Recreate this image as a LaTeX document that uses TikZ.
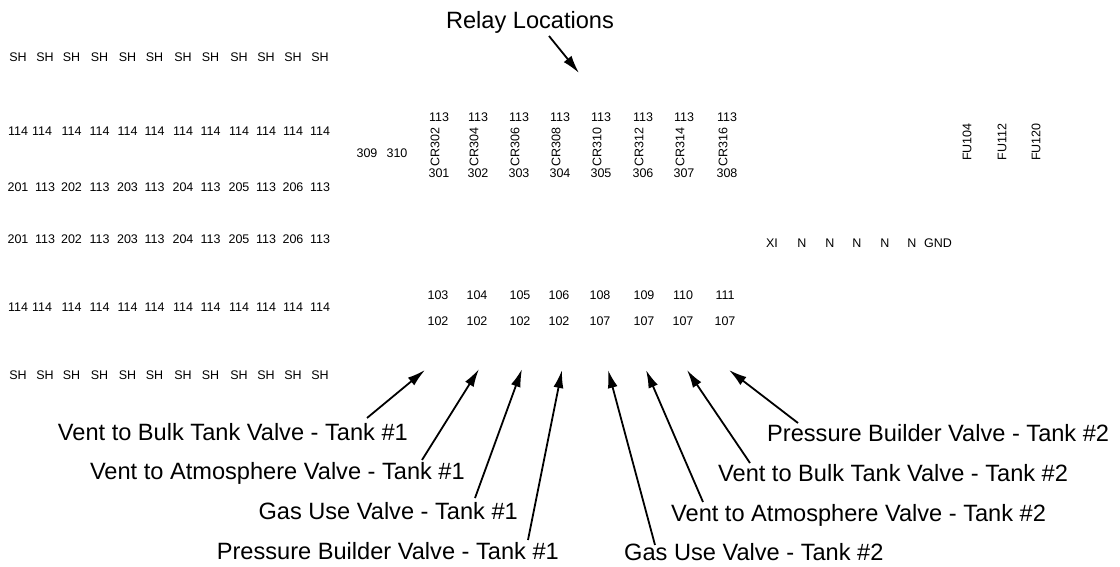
\documentclass[tikz,border=0pt]{standalone}
\usepackage{fontspec}
\setmainfont{Liberation Sans}
\usetikzlibrary{arrows.meta}
\begin{document}
\begin{tikzpicture}[x=1pt,y=-1pt,
  sm/.style={inner sep=0pt, font=\fontsize{12.5}{14}\selectfont},
  rot/.style={sm, rotate=90},
  lg/.style={inner sep=0pt, font=\fontsize{23.6}{27}\selectfont},
  arr/.style={line width=1.8pt, -{Latex[length=18pt,width=10pt]}}]
\fill[white] (0,0) rectangle (1120,567);
\useasboundingbox (0,0) rectangle (1120,567);

% left terminal block
\foreach \x [count=\i] in {18,45,71.5,99.5,127.5,154.5,183,210.5,239,266,293,320} {
  \node[sm] (sha\i) at (\x,57) {SH};
  \node[sm] (shb\i) at (\x,375) {SH};
}
\foreach \x [count=\i] in {18,42,71.5,99.5,127.5,154.5,183,210.5,239,266,293,320} {
  \node[sm] (ta\i) at (\x,131) {114};
  \node[sm] (tb\i) at (\x,307) {114};
}
\foreach \x/\t [count=\i] in {18/201,45/113,71.5/202,99.5/113,127.5/203,154.5/113,183/204,210.5/113,239/205,266/113,293/206,320/113} {
  \node[sm] (ra\i) at (\x,187) {\t};
  \node[sm] (rb\i) at (\x,239) {\t};
}

% relay block
\node[sm] (n309) at (367,153) {309};
\node[sm] (n310) at (397,153) {310};
\foreach \x/\c/\b [count=\i] in {439/302/301,478/304/302,519/306/303,560/308/304,601/310/305,643/312/306,684/314/307,727/316/308} {
  \node[sm] (top\i) at (\x,117) {113};
  \node[rot] (cr\i) at (\x-4,147) {CR\c};
  \node[sm] (bot\i) at (\x,173) {\b};
}
\foreach \x/\a/\b [count=\i] in {438/103/102,477/104/102,520/105/102,559/106/102,600/108/107,644/109/107,683/110/107,725/111/107} {
  \node[sm] (ua\i) at (\x,295) {\a};
  \node[sm] (ub\i) at (\x,321) {\b};
}

% neutral / ground row
\foreach \x/\t [count=\i] in {772/XI,802/N,830/N,857/N,885/N,912/N,938/GND} {
  \node[sm] (g\i) at (\x,243) {\t};
}
% fuses
\node[rot] (fu1) at (967,142) {FU104};
\node[rot] (fu2) at (1002,142) {FU112};
\node[rot] (fu3) at (1036,142) {FU120};

% title
\node[lg, anchor=base] (title) at (530,28.4) {Relay Locations};
\coordinate (tt) at (549,36);
\coordinate (th) at (579,73);
\draw[arr] (tt) -- (th);

% valve labels
\node[lg, anchor=base east] (vb1) at (408,440.4) {Vent to Bulk Tank Valve - Tank \#1};
\node[lg, anchor=base east] (va1) at (465,479.4) {Vent to Atmosphere Valve - Tank \#1};
\node[lg, anchor=base east] (gu1) at (518,519.4) {Gas Use Valve - Tank \#1};
\node[lg, anchor=base east] (pb1) at (559,559.4) {Pressure Builder Valve - Tank \#1};
\node[lg, anchor=base west] (pb2) at (767,441.4) {Pressure Builder Valve - Tank \#2};
\node[lg, anchor=base west] (vb2) at (718,481.4) {Vent to Bulk Tank Valve - Tank \#2};
\node[lg, anchor=base west] (va2) at (671,521.4) {Vent to Atmosphere Valve - Tank \#2};
\node[lg, anchor=base west] (gu2) at (624,560.4) {Gas Use Valve - Tank \#2};

% arrow ends
\coordinate (t1) at (367,418); \coordinate (h1) at (425,370);
\coordinate (t2) at (422,460); \coordinate (h2) at (479,369);
\coordinate (t3) at (475,498); \coordinate (h3) at (522,369);
\coordinate (t4) at (528,540); \coordinate (h4) at (562,370);
\coordinate (t5) at (655,545); \coordinate (h5) at (608,370);
\coordinate (t6) at (703,502); \coordinate (h6) at (646,370);
\coordinate (t7) at (750,463); \coordinate (h7) at (687,370);
\coordinate (t8) at (798,423); \coordinate (h8) at (729,370);
\foreach \i in {1,...,8} { \draw[arr] (t\i) -- (h\i); }
\end{tikzpicture}
\end{document}
